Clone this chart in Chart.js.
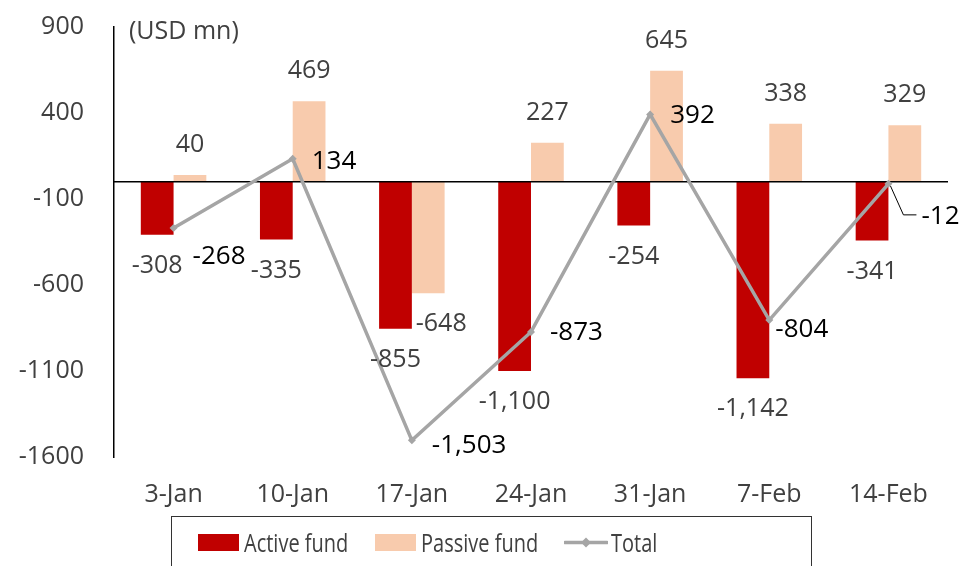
<!DOCTYPE html>
<html>
<head>
<meta charset="utf-8">
<title>Fund flows</title>
<script src="https://cdn.jsdelivr.net/npm/chart.js@4.4.1/dist/chart.umd.min.js"></script>
<style>
  body { margin: 0; background: #fff; font-family: 'Open Sans', sans-serif; }
  #wrap { position: relative; width: 967px; height: 566px; overflow: hidden; }
  #legend { position: absolute; left: 171px; top: 516px; width: 641px; height: 64px;
            border: 1.5px solid #333; box-sizing: border-box; font-size: 25px; color: #404040; }
  .item { position: absolute; top: 9px; display: flex; align-items: center; height: 32px; white-space: nowrap; }
  .item span { display: inline-block; transform: scaleX(0.8); transform-origin: left center; }
  .sw { width: 41px; height: 17px; margin-right: 5px; }
</style>
</head>
<body>
<div id="wrap">
  <canvas id="flowChart" width="967" height="566"></canvas>
  <div id="legend"></div>
</div>
<script>
// Weekly flows, USD mn
const weeks = ['3-Jan', '10-Jan', '17-Jan', '24-Jan', '31-Jan', '7-Feb', '14-Feb'];
const activeFund = [-308, -335, -855, -1100, -254, -1142, -341];
const passiveFund = [40, 469, -648, 227, 645, 338, 329];
const totalFlow = [-268, 134, -1503, -873, 392, -804, -12];
const yTicks = [-1600, -1100, -600, -100, 400, 900];

const RED = '#C00000';
const PEACH = '#F8CBAD';
const GREY = '#A5A5A5';
const TEXT = '#404040';
const FONT = "'Open Sans', sans-serif";

const fmt = v => v.toLocaleString('en-US');

// label tweaks: [dx, dy] from the default spot
const totalOffsets = [[19, 29], [19, 3], [20, 5], [19, 1], [20, 1], [6, 10], [33, 33]];
const barOffsets = { 1: { 2: [13, 0] } };

const flowLabels = {
  id: 'flowLabels',
  beforeDatasetDraw(chart, args) {
    if (args.meta.type !== 'line') return;
    // zero line sits over the bars but under the total line
    const ctx = chart.ctx, area = chart.chartArea;
    const y0 = chart.scales.y.getPixelForValue(0);
    ctx.save();
    ctx.strokeStyle = '#000';
    ctx.lineWidth = 1.5;
    ctx.beginPath();
    ctx.moveTo(area.left, y0);
    ctx.lineTo(area.right, y0);
    ctx.stroke();
    ctx.restore();
  },
  afterDatasetsDraw(chart) {
    const ctx = chart.ctx, area = chart.chartArea;
    ctx.save();
    ctx.font = '25px ' + FONT;
    ctx.textBaseline = 'middle';

    // unit note
    ctx.fillStyle = TEXT;
    ctx.textAlign = 'left';
    ctx.fillText('(USD mn)', area.left + 15, 32);

    // bar values
    ctx.textAlign = 'center';
    [0, 1].forEach(di => {
      const meta = chart.getDatasetMeta(di);
      const vals = chart.data.datasets[di].data;
      meta.data.forEach((bar, i) => {
        const v = vals[i];
        const off = (barOffsets[di] && barOffsets[di][i]) || [0, 0];
        const y = v >= 0 ? bar.y - 30 : bar.y + 31;
        ctx.fillText(fmt(v), bar.x + off[0], y + off[1]);
      });
    });

    // total values
    const lineIdx = 2;
    const lmeta = chart.getDatasetMeta(lineIdx);
    const tvals = chart.data.datasets[lineIdx].data;
    ctx.font = '26px ' + FONT;
    ctx.fillStyle = '#000';
    ctx.textAlign = 'left';
    lmeta.data.forEach((pt, i) => {
      const [dx, dy] = totalOffsets[i];
      if (i === tvals.length - 1) {
        // leader line for the last point
        ctx.strokeStyle = '#000';
        ctx.lineWidth = 1;
        ctx.beginPath();
        ctx.moveTo(pt.x + 2, pt.y + 2);
        ctx.lineTo(pt.x + 15, pt.y + dy - 2);
        ctx.lineTo(pt.x + dx - 5, pt.y + dy - 2);
        ctx.stroke();
      }
      ctx.fillText(fmt(tvals[i]), pt.x + dx, pt.y + dy);
    });
    ctx.restore();
  }
};

const ctx = document.getElementById('flowChart').getContext('2d');
const flowChart = new Chart(ctx, {
  type: 'bar',
  data: {
    labels: weeks,
    datasets: [{
      label: 'Active fund',
      data: activeFund,
      backgroundColor: RED,
      order: 1
    }, {
      label: 'Passive fund',
      data: passiveFund,
      backgroundColor: PEACH,
      order: 1
    }, {
      type: 'line',
      label: 'Total',
      data: totalFlow,
      borderColor: GREY,
      backgroundColor: GREY,
      borderWidth: 3.5,
      pointStyle: 'rectRot',
      pointRadius: 4,
      pointBorderWidth: 0,
      order: 0
    }]
  },
  options: {
    responsive: false,
    animation: false,
    categoryPercentage: 0.55,
    barPercentage: 1,
    layout: { padding: { left: 0, right: 19, top: 27, bottom: 41 } },
    plugins: {
      legend: { display: false },
      tooltip: { enabled: false }
    },
    scales: {
      x: {
        grid: { display: false },
        border: { display: false },
        ticks: { color: TEXT, font: { family: FONT, size: 25 }, padding: 15, maxRotation: 0 }
      },
      y: {
        min: -1600,
        max: 900,
        afterBuildTicks: scale => { scale.ticks = yTicks.map(v => ({ value: v })); },
        afterFit: scale => {
          scale.width = 114;
          scale.paddingTop = 0;
          scale.paddingBottom = 0;
        },
        grid: { display: false },
        border: { display: true, color: '#000', width: 1.5 },
        ticks: {
          color: TEXT,
          font: { family: FONT, size: 25 },
          padding: 22,
          callback: v => String(v)
        }
      }
    }
  },
  plugins: [flowLabels]
});

// legend built from the datasets
const legend = document.getElementById('legend');
const lefts = [26, 203, 392];
flowChart.data.datasets.forEach((ds, i) => {
  const item = document.createElement('div');
  item.className = 'item';
  item.style.left = lefts[i] + 'px';
  let sw;
  if (ds.type === 'line') {
    sw = '<svg width="44" height="17" style="margin-right:3px"><line x1="1" y1="8.5" x2="43" y2="8.5" stroke="' + GREY +
         '" stroke-width="3.5" stroke-linecap="round"/><rect x="18.5" y="5" width="7" height="7" fill="' + GREY +
         '" transform="rotate(45 22 8.5)"/></svg>';
  } else {
    sw = '<div class="sw" style="background:' + ds.backgroundColor + '"></div>';
  }
  item.innerHTML = sw + '<span>' + ds.label + '</span>';
  legend.appendChild(item);
});
</script>
</body>
</html>
